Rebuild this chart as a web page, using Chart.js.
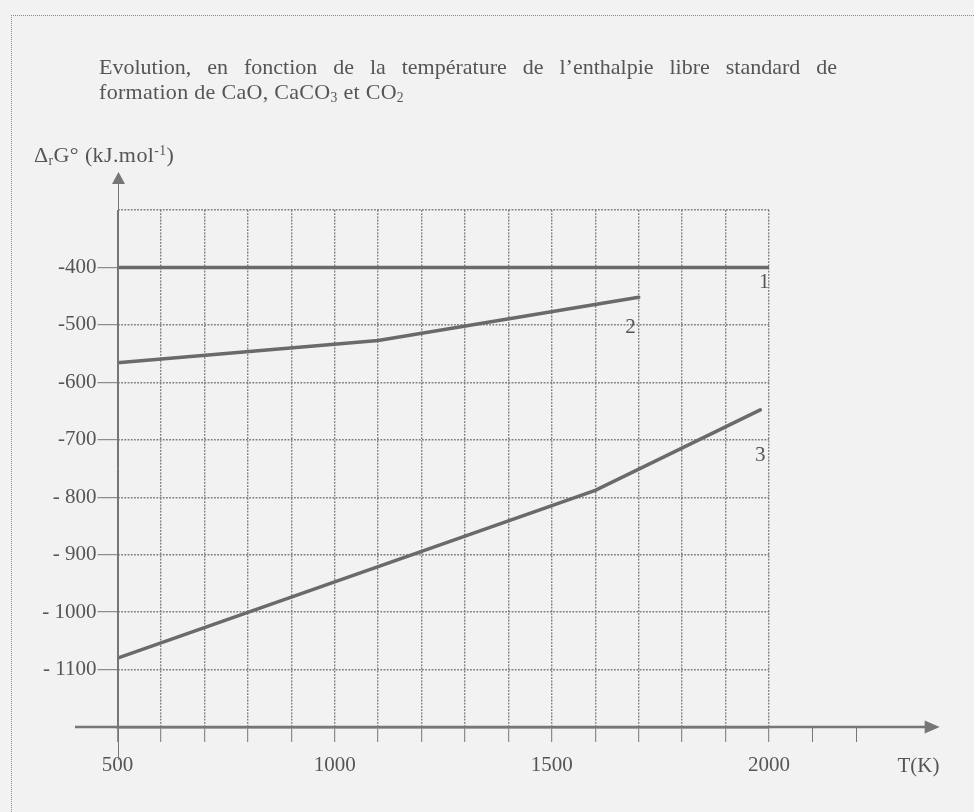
<!DOCTYPE html>
<html>
<head>
<meta charset="utf-8">
<script src="https://cdn.jsdelivr.net/npm/chart.js@4.4.1/dist/chart.umd.min.js"></script>
<style>
  body { margin: 0; background: #f2f2f2; }
  #wrap { position: relative; width: 974px; height: 812px; overflow: hidden; font-family: "Liberation Serif", "Times New Roman", serif; color: #555; }
  #c { position: absolute; left: 0; top: 0; }
  .frame { position: absolute; left: 11px; top: 15px; width: 980px; height: 820px; border-top: 1px dotted #8a8a8a; border-left: 1px dotted #8a8a8a; }
  .title { position: absolute; left: 99px; width: 738px; font-size: 22px; line-height: 25px; letter-spacing: 0.3px; white-space: nowrap; }
  .t1 { top: 54px; text-align: justify; text-align-last: justify; white-space: normal; letter-spacing: 0; }
  .t2 { top: 79px; }
  .ylab { position: absolute; left: 34px; top: 143px; font-size: 22px; line-height: 24px; letter-spacing: 0.4px; white-space: nowrap; }
  sub, sup { font-size: 0.62em; line-height: 0; }
  sub { vertical-align: -0.25em; }
  sup { vertical-align: 0.55em; }
</style>
</head>
<body>
<div id="wrap">
  <canvas id="c" width="974" height="812"></canvas>
  <div class="frame"></div>
  <div class="title t1">Evolution, en fonction de la température de l’enthalpie libre standard de</div>
  <div class="title t2">formation de CaO, CaCO<sub>3</sub> et CO<sub>2</sub></div>
  <div class="ylab">Δ<sub>r</sub>G° (kJ.mol<sup>-1</sup>)</div>
</div>
<script>
// courbe 1, 2, 3 : T (K) et ΔrG° (kJ/mol)
const temps1 = [500, 2000];
const gibbs1 = [-400, -400];
const temps2 = [500, 1100, 1700];
const gibbs2 = [-566, -527, -452];
const temps3 = [500, 1600, 1980];
const gibbs3 = [-1080, -788, -648];

const xTickValues = [500, 1000, 1500, 2000];
const xTickLabels = ['500', '1000', '1500', '2000'];
const yTickValues = [-1100, -1000, -900, -800, -700, -600, -500, -400];
const yTickLabels = ['- 1100', '- 1000', '- 900', '- 800', '-700', '-600', '-500', '-400'];

const curveNames = ['1', '2', '3'];
const curveNameT = [1989, 1681, 1980];
const curveNameG = [-426, -504, -727];

const lineColor = '#6a6a6a';
const gridColor = '#7e7e7e';
const axisColor = '#767676';
const textColor = '#555555';
const tickFont = { family: '"Liberation Serif", "Times New Roman", serif', size: 21 };

function toPoints(t, g) {
  return t.map((v, i) => ({ x: v, y: g[i] }));
}

function curve(t, g) {
  return {
    data: toPoints(t, g),
    borderColor: lineColor,
    borderWidth: 3.5,
    pointRadius: 0,
    tension: 0,
    borderCapStyle: 'round'
  };
}

// axes avec fleches, graduations hors grille, etiquettes des courbes
const axesPlugin = {
  id: 'axesPlugin',
  afterDraw(chart) {
    const ctx = chart.ctx;
    const xs = chart.scales.x;
    const ys = chart.scales.y;
    const y0 = ys.getPixelForValue(-1200);
    const x0 = xs.getPixelForValue(500);
    ctx.save();
    ctx.strokeStyle = axisColor;
    ctx.fillStyle = axisColor;

    // axe T
    const xTip = xs.getPixelForValue(2393);
    ctx.lineWidth = 2.5;
    ctx.beginPath();
    ctx.moveTo(xs.getPixelForValue(402), y0);
    ctx.lineTo(xTip - 12, y0);
    ctx.stroke();
    ctx.beginPath();
    ctx.moveTo(xTip, y0);
    ctx.lineTo(xTip - 15, y0 - 6.5);
    ctx.lineTo(xTip - 15, y0 + 6.5);
    ctx.closePath();
    ctx.fill();

    ctx.lineWidth = 1;
    [2100, 2200].forEach(v => {
      const px = Math.round(xs.getPixelForValue(v)) + 0.5;
      ctx.beginPath();
      ctx.moveTo(px, y0);
      ctx.lineTo(px, y0 + 15);
      ctx.stroke();
    });

    // axe ΔrG°
    const yTip = ys.getPixelForValue(-234);
    const xa = Math.round(x0) + 0.5;
    ctx.beginPath();
    ctx.moveTo(xa, ys.getPixelForValue(-1257));
    ctx.lineTo(xa, yTip + 8);
    ctx.stroke();
    ctx.beginPath();
    ctx.moveTo(xa, yTip);
    ctx.lineTo(xa - 6.5, yTip + 12);
    ctx.lineTo(xa + 6.5, yTip + 12);
    ctx.closePath();
    ctx.fill();

    ctx.fillStyle = textColor;
    ctx.font = '21px "Liberation Serif", "Times New Roman", serif';
    ctx.textAlign = 'center';
    ctx.textBaseline = 'middle';
    curveNames.forEach((n, i) => {
      ctx.fillText(n, xs.getPixelForValue(curveNameT[i]), ys.getPixelForValue(curveNameG[i]));
    });
    ctx.fillText('T(K)', xs.getPixelForValue(2344), ys.getPixelForValue(-1268));
    ctx.restore();
  }
};

new Chart(document.getElementById('c'), {
  type: 'line',
  data: {
    datasets: [curve(temps1, gibbs1), curve(temps2, gibbs2), curve(temps3, gibbs3)]
  },
  options: {
    responsive: false,
    animation: false,
    devicePixelRatio: 1,
    layout: { padding: { top: 210, right: 205, left: 0, bottom: 0 } },
    plugins: {
      legend: { display: false },
      title: { display: false },
      tooltip: { enabled: false }
    },
    scales: {
      x: {
        type: 'linear',
        min: 500,
        max: 2000,
        afterFit: (scale) => { scale.height = 85; },
        border: { display: true, color: axisColor, width: 2.5, dash: [1.8, 1.4] },
        grid: {
          color: (c) => (c.tick && c.tick.value === 500 ? 'rgba(0,0,0,0)' : gridColor),
          lineWidth: 1.4,
          tickColor: axisColor,
          tickWidth: 1,
          tickLength: 15,
          drawTicks: true
        },
        ticks: {
          stepSize: 100,
          autoSkip: false,
          maxRotation: 0,
          minRotation: 0,
          padding: 11,
          color: textColor,
          font: tickFont,
          callback: (v) => {
            const i = xTickValues.indexOf(v);
            return i >= 0 ? xTickLabels[i] : '';
          }
        }
      },
      y: {
        type: 'linear',
        min: -1200,
        max: -300,
        afterFit: (scale) => { scale.width = 117.5; },
        border: { display: true, color: axisColor, width: 1, dash: [1.8, 1.4] },
        grid: {
          color: (c) => (c.tick && c.tick.value === -1200 ? 'rgba(0,0,0,0)' : gridColor),
          lineWidth: 1.4,
          tickColor: (c) => (c.tick && yTickValues.includes(c.tick.value) ? axisColor : 'rgba(0,0,0,0)'),
          tickWidth: 1,
          tickLength: 20,
          drawTicks: true
        },
        ticks: {
          stepSize: 100,
          autoSkip: false,
          padding: 1,
          color: textColor,
          font: tickFont,
          callback: (v) => {
            const i = yTickValues.indexOf(v);
            return i >= 0 ? yTickLabels[i] : '';
          }
        }
      }
    }
  },
  plugins: [axesPlugin]
});
</script>
</body>
</html>
